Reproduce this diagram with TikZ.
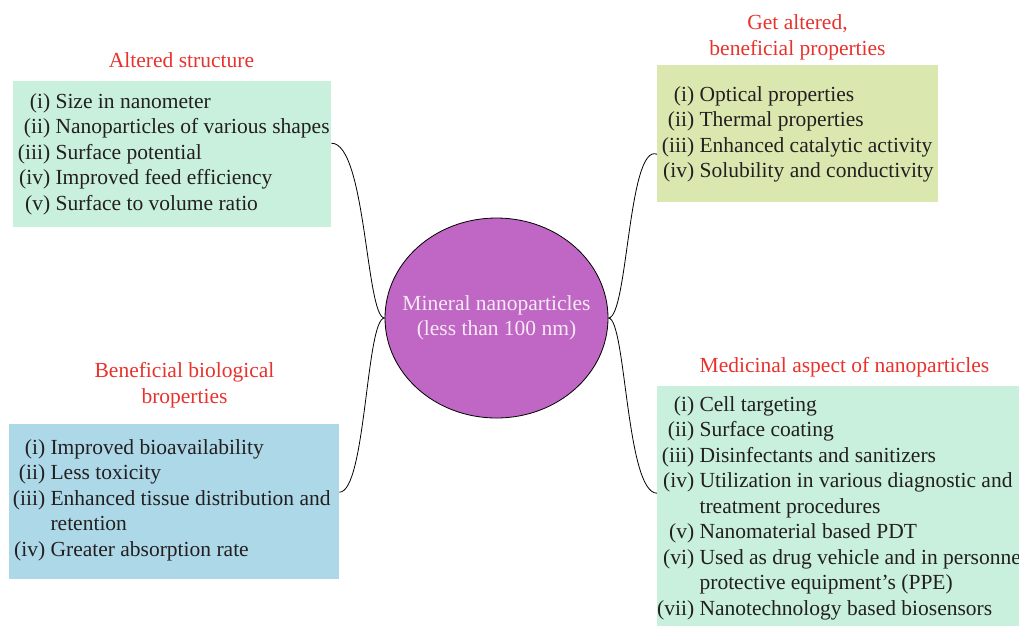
\documentclass[tikz,border=0pt]{standalone}
\usepackage{fontspec}
\setmainfont{Liberation Serif}
\usepackage{tikz}
\usetikzlibrary{shapes}
\usepackage{color}

\definecolor{titlered}{RGB}{232,50,45}
\definecolor{mintbox}{RGB}{200,240,220}
\definecolor{olivebox}{RGB}{218,232,176}
\definecolor{bluebox}{RGB}{173,216,232}
\definecolor{orchid}{RGB}{192,102,196}
\definecolor{inktext}{RGB}{35,31,32}
\definecolor{paletext}{RGB}{246,234,246}

\tikzset{
  panel/.style={rectangle,anchor=north west,inner sep=0pt},
  heading/.style={anchor=base,inner sep=0pt,text=titlered,font=\fontsize{21.5}{26}\selectfont},
  items/.style={anchor=base west,inner sep=0pt,text=inktext,font=\fontsize{21.5}{25.5}\selectfont},
  link/.style={line width=0.8pt}
}

\begin{document}
\begin{tikzpicture}[x=1pt,y=-1pt]
  \useasboundingbox (0,0) rectangle (1019,625);
  \clip (0,0) rectangle (1019,625);
  % coloured panels
  \node[panel,fill=mintbox,minimum width=318pt,minimum height=146pt] (tl) at (13,81) {};
  \node[panel,fill=olivebox,minimum width=281pt,minimum height=137pt] (tr) at (657,65) {};
  \node[panel,fill=bluebox,minimum width=330pt,minimum height=155pt] (bl) at (9,424) {};
  \node[panel,fill=mintbox,minimum width=380pt,minimum height=250pt] (br) at (657,386) {};
  % centre
  \node[draw,ellipse,line width=0.8pt,fill=orchid,minimum width=223pt,minimum height=200pt,inner sep=0pt,
        text=paletext,font=\fontsize{21.5}{25.5}\selectfont] (core) at (496.5,318)
        {\makebox[0pt]{\begin{tabular}{@{}c@{}}Mineral nanoparticles\\(less than 100 nm)\end{tabular}}};
  % headings
  \node[heading] (tlhead) at (181.5,67) {Altered structure};
  \node[heading] (trhead) at (797.5,29) {\begin{tabular}[t]{@{}c@{}}Get altered,\\beneficial properties\end{tabular}};
  \node[heading] (blhead) at (184.5,377) {\begin{tabular}[t]{@{}c@{}}Beneficial biological\\broperties\end{tabular}};
  \node[heading] (brhead) at (844.5,372) {Medicinal aspect of nanoparticles};
  % lists
  \node[items] (tllist) at (17.75,108) {\begin{tabular}[t]{@{}r@{\ }l@{}}
    (i) & Size in nanometer\\
    (ii) & Nanoparticles of various shapes\\
    (iii) & Surface potential\\
    (iv) & Improved feed efficiency\\
    (v) & Surface to volume ratio
  \end{tabular}};
  \node[items] (trlist) at (661.75,101) {\begin{tabular}[t]{@{}r@{\ }l@{}}
    (i) & Optical properties\\
    (ii) & Thermal properties\\
    (iii) & Enhanced catalytic activity\\
    (iv) & Solubility and conductivity
  \end{tabular}};
  \node[items] (bllist) at (12.75,454) {\begin{tabular}[t]{@{}r@{\ }l@{}}
    (i) & Improved bioavailability\\
    (ii) & Less toxicity\\
    (iii) & Enhanced tissue distribution and\\
     & retention\\
    (iv) & Greater absorption rate
  \end{tabular}};
  \node[items] (brlist) at (657,411) {\begin{tabular}[t]{@{}r@{\ }l@{}}
    (i) & Cell targeting\\
    (ii) & Surface coating\\
    (iii) & Disinfectants and sanitizers\\
    (iv) & Utilization in various diagnostic and\\
     & treatment procedures\\
    (v) & Nanomaterial based PDT\\
    (vi) & Used as drug vehicle and in personnel\\
     & protective equipment's (PPE)\\
    (vii) & Nanotechnology based biosensors
  \end{tabular}};
  % connectors
  \draw[link] ([yshift=11pt]tl.east) .. controls (366,143) and (366,318) .. (core.west);
  \draw[link] ([yshift=9.5pt]bl.east) .. controls (366,492) and (366,318) .. (core.west);
  \draw[link] (core.east) .. controls (628,318) and (628,143) .. ([yshift=-20.5pt]tr.west);
  \draw[link] (core.east) .. controls (626,318) and (626,493) .. ([yshift=18pt]br.west);
\end{tikzpicture}
\end{document}
